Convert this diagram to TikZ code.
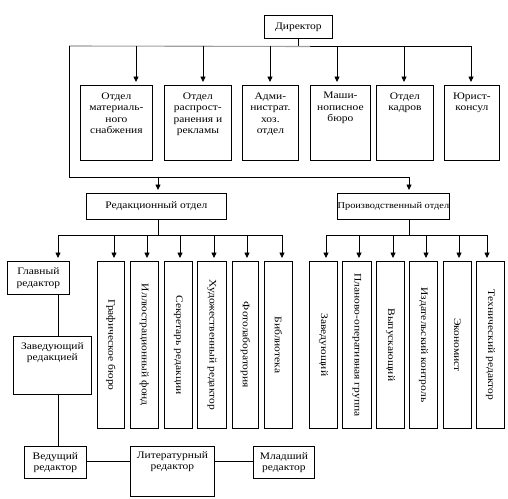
\documentclass[tikz,border=0pt]{standalone}
\usepackage{fontspec}
\setmainfont{Liberation Serif}[FakeStretch=1.15]
\usetikzlibrary{arrows.meta}
\newcommand{\tbx}[4]{\parbox[c][#2pt][t]{#1pt}{\centering\vspace*{#3pt}#4\par}}
\begin{document}
\begin{tikzpicture}[x=1pt,y=-1pt,
  every node/.style={font=\fontsize{10}{11.5}\selectfont},
  box/.style={draw,line width=0.8pt,inner sep=0pt,anchor=north west,align=center},
  ln/.style={line width=0.8pt},
  arr/.style={line width=0.8pt,-{Triangle[length=5.5pt,width=5pt]},shorten >=3pt}]
\useasboundingbox (0,0) rectangle (508,498);
% director
\node[box,minimum width=68pt,minimum height=23pt] (dir) at (264,15) {Директор};
% top boxes
\node[box] (t1) at (80,85) {\tbx{72}{75}{7}{Отдел\\материаль-\\ного\\снабжения}};
\node[box] (t2) at (164,85) {\tbx{67}{75}{7}{Отдел\\распрост-\\ранения и\\рекламы}};
\node[box] (t3) at (242,85) {\tbx{56}{75}{7}{Адми-\\нистрат.\\хоз.\\отдел}};
\node[box] (t4) at (310,85) {\tbx{60}{75}{7}{Маши-\\нописное\\бюро}};
\node[box] (t5) at (376,85) {\tbx{57}{75}{7}{Отдел\\кадров}};
\node[box] (t6) at (444,85) {\tbx{55}{75}{7}{Юрист-\\консул}};
% top bus
\coordinate (bl) at (69,46);
\coordinate (br) at (472,46);
\coordinate (bd) at (298,46);
\draw[ln] (dir.south -| bd) -- (bd);
\draw[ln] (bd) -- (br);
\draw[line width=1.1pt,gray!75] (bl) -- (310,46.5);
\foreach \x/\n in {136/t1,203/t2,270/t3,337/t4,404/t5,471/t6}{
  \coordinate (a\n) at (\x,46);
  \draw[arr] (a\n) -- (a\n |- \n.north);
}
% departments
\node[box,minimum width=140pt,minimum height=26pt] (red) at (86,193) {Редакционный отдел};
\node[box,minimum width=112pt,minimum height=26pt,font=\fontsize{9}{10.5}\selectfont] (prod) at (337,193) {Производственный отдел};
\coordinate (ml) at (69,177);
\coordinate (mr) at (409,177);
\coordinate (mred) at (158,177);
\draw[ln] (bl) -- (ml) -- (mr);
\draw[arr] (mr) -- (mr |- prod.north);
\draw[arr] (mred) -- (mred |- red.north);
% redaction children
\node[box,minimum width=62pt,minimum height=33pt] (glav) at (7,261) {Главный\\редактор};
\node[box,minimum width=27pt,minimum height=167pt] (v1) at (97,261) {\rotatebox{-90}{Графическое бюро}};
\node[box,minimum width=28pt,minimum height=167pt] (v2) at (130,261) {\rotatebox{-90}{Иллюстрационный фонд}};
\node[box,minimum width=28pt,minimum height=167pt] (v3) at (164,261) {\rotatebox{-90}{Секретарь редакции}};
\node[box,minimum width=29pt,minimum height=167pt] (v4) at (197,261) {\rotatebox{-90}{Художественный редактор}};
\node[box,minimum width=26pt,minimum height=167pt] (v5) at (232,261) {\rotatebox{-90}{Фотолаборатория}};
\node[box,minimum width=28pt,minimum height=167pt] (v6) at (264,261) {\rotatebox{-90}{Библиотека}};
\coordinate (rb) at (158,235);
\coordinate (rbl) at (58,235);
\coordinate (rbr) at (282,235);
\draw[ln] (red.south -| rb) -- (rb);
\draw[ln] (rbl) -- (rbr);
\foreach \x/\n in {58/glav,114/v1,147/v2,180/v3,214/v4,247/v5,282/v6}{
  \coordinate (c\n) at (\x,235);
  \draw[arr] (c\n) -- (c\n |- \n.north);
}
% production children
\node[box,minimum width=28pt,minimum height=167pt] (p1) at (309,261) {\rotatebox{-90}{Заведующий}};
\node[box,minimum width=29pt,minimum height=167pt] (p2) at (342,261) {\rotatebox{-90}{Планово-оперативная группа}};
\node[box,minimum width=28pt,minimum height=167pt] (p3) at (376,261) {\rotatebox{-90}{Выпускающий}};
\node[box,minimum width=28pt,minimum height=167pt] (p4) at (409,261) {\rotatebox{-90}{Издательский контроль}};
\node[box,minimum width=28pt,minimum height=167pt] (p5) at (443,261) {\rotatebox{-90}{Экономист}};
\node[box,minimum width=28pt,minimum height=167pt] (p6) at (476,261) {\rotatebox{-90}{Технический редактор}};
\coordinate (pb) at (409,235);
\coordinate (pbl) at (326,235);
\coordinate (pbr) at (487,235);
\draw[ln] (prod.south -| pb) -- (pb);
\draw[ln] (pbl) -- (pbr);
\foreach \x/\n in {326/p1,359/p2,393/p3,426/p4,459/p5,487/p6}{
  \coordinate (d\n) at (\x,235);
  \draw[arr] (d\n) -- (d\n |- \n.north);
}
% editorial chain
\node[box] (zav) at (13,336) {\tbx{78}{58}{6}{Заведующий\\редакцией}};
\node[box,minimum width=62pt,minimum height=32pt] (ved) at (24,446) {Ведущий\\редактор};
\node[box] (lit) at (130,446) {\tbx{84}{50}{5}{Литературный\\редактор}};
\node[box,minimum width=61pt,minimum height=32pt] (mlad) at (253,446) {Младший\\редактор};
\coordinate (ex) at (58,300);
\draw[ln] (glav.south -| ex) -- (zav.north -| ex);
\draw[ln] (zav.south -| ex) -- (ved.north -| ex);
\coordinate (hy) at (0,461);
\draw[ln] (ved.east |- hy) -- (lit.west |- hy);
\draw[ln] (lit.east |- hy) -- (mlad.west |- hy);
\end{tikzpicture}
\end{document}
